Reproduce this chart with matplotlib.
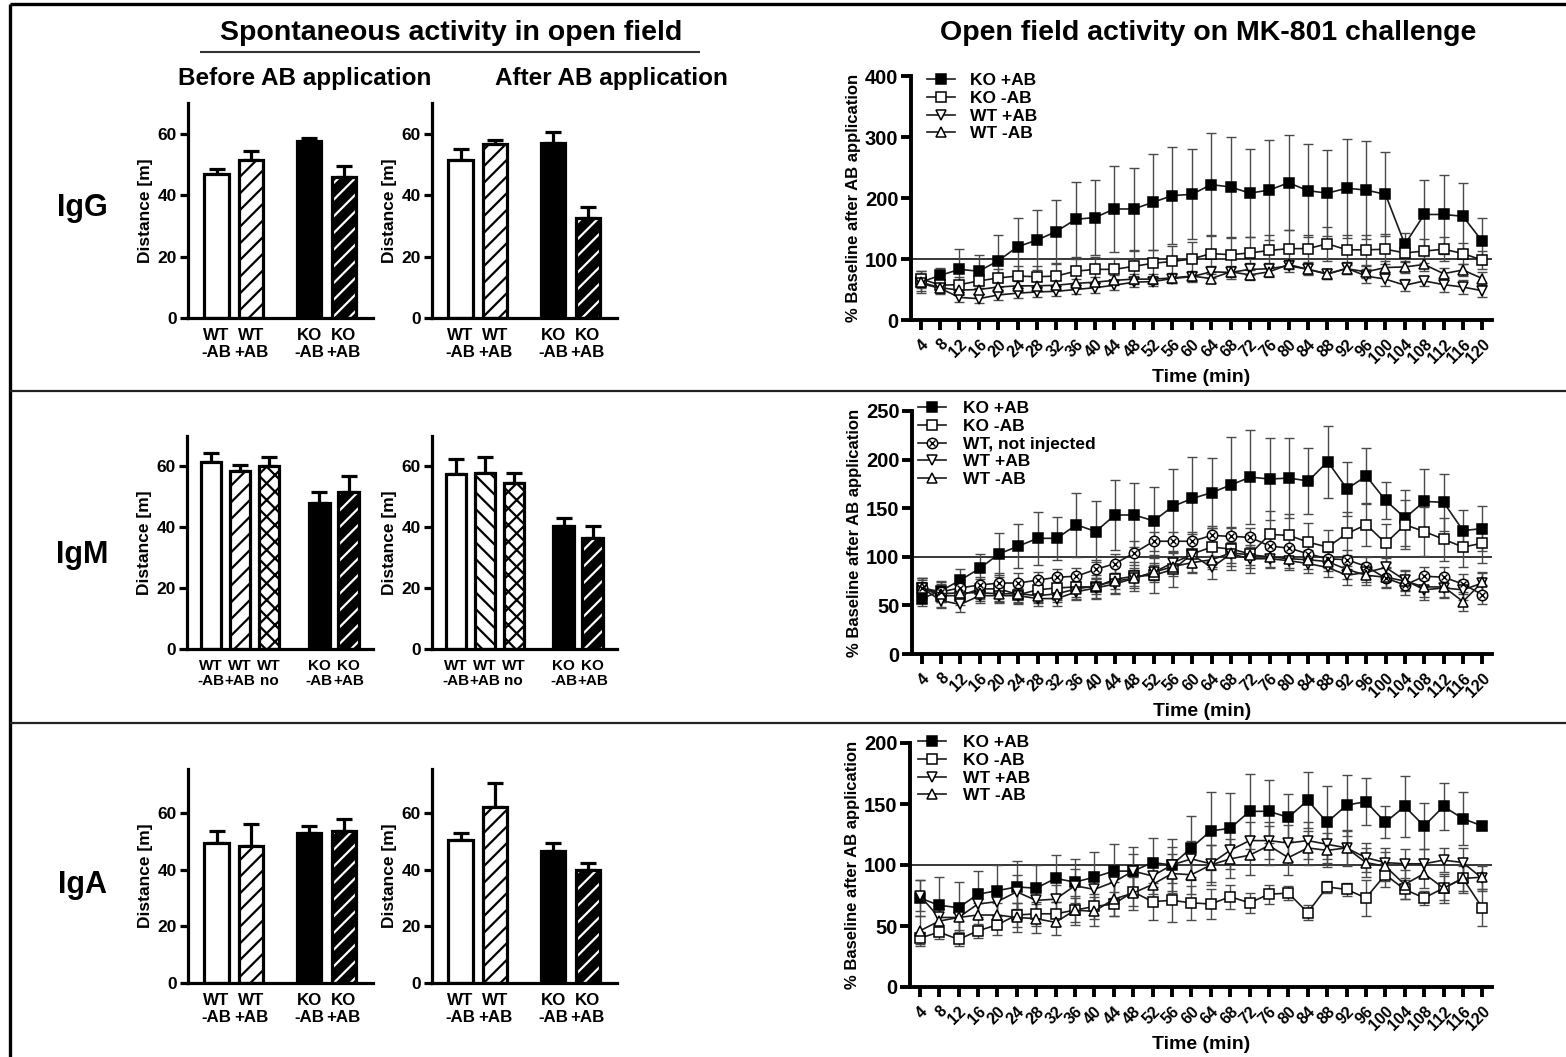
import matplotlib
matplotlib.use("Agg")
import matplotlib.pyplot as plt
from matplotlib.lines import Line2D
from matplotlib.legend_handler import HandlerTuple

plt.rcParams["font.family"] = ["Liberation Sans", "DejaVu Sans"]
plt.rcParams["font.weight"] = "bold"
plt.rcParams["axes.labelweight"] = "bold"
plt.rcParams["hatch.linewidth"] = 1.6

# ---------------------------------------------------------------- data
# Spontaneous activity (distance travelled, m), mean and SEM
BAR_LABELS_4 = ["WT\n-AB", "WT\n+AB", "KO\n-AB", "KO\n+AB"]
BAR_LABELS_5 = ["WT\n-AB", "WT\n+AB", "WT\nno", "KO\n-AB", "KO\n+AB"]

igg_before = [47, 51.5, 57.5, 46]
igg_before_sem = [1.5, 3, 1, 3.5]
igg_after = [51.5, 56.5, 57, 32.5]
igg_after_sem = [3.5, 1.5, 3.5, 3.5]

igm_before = [61.5, 58.5, 60, 48, 51.5]
igm_before_sem = [3, 2, 3, 3.5, 5.5]
igm_after = [57.5, 58, 54.5, 40.5, 36.5]
igm_after_sem = [5, 5, 3.5, 2.5, 4]

iga_before = [49.5, 48.5, 53, 53.5]
iga_before_sem = [4, 7.5, 2.5, 4.5]
iga_after = [50.5, 62, 46.5, 40]
iga_after_sem = [2.5, 8.5, 3, 2.5]

# MK-801 challenge: % of baseline, every 4 min
TIME_MIN = [4, 8, 12, 16, 20, 24, 28, 32, 36, 40, 44, 48, 52, 56, 60,
            64, 68, 72, 76, 80, 84, 88, 92, 96, 100, 104, 108, 112, 116, 120]

igg_ko_pos = [62, 73, 83, 80, 97, 120, 131, 145, 165, 168, 182, 182, 193, 204, 206,
              222, 218, 208, 213, 225, 212, 208, 216, 213, 206, 124, 173, 173, 170, 129]
igg_ko_pos_sem = [18, 13, 34, 27, 43, 47, 49, 51, 61, 62, 70, 67, 79, 79, 74,
                  84, 82, 72, 82, 78, 76, 71, 81, 81, 69, 19, 57, 64, 54, 38]
igg_ko_neg = [68, 57, 58, 64, 69, 72, 71, 72, 80, 83, 83, 88, 93, 96, 100,
              109, 107, 110, 114, 117, 117, 125, 115, 115, 116, 110, 113, 116, 109, 98]
igg_ko_neg_sem = [12, 10, 12, 12, 15, 16, 18, 20, 20, 20, 18, 25, 22, 25, 28,
                  30, 28, 26, 25, 30, 22, 28, 25, 25, 25, 15, 20, 20, 18, 15]
igg_wt_pos = [60, 52, 37, 35, 41, 44, 46, 47, 50, 53, 57, 62, 63, 68, 71,
              79, 78, 83, 84, 89, 83, 75, 85, 72, 67, 57, 64, 58, 54, 48]
igg_wt_pos_sem = [12, 10, 8, 7, 8, 8, 8, 8, 8, 8, 8, 8, 8, 8, 8,
                  10, 10, 10, 10, 10, 10, 8, 10, 12, 12, 10, 8, 12, 12, 10]
igg_wt_neg = [62, 53, 49, 50, 54, 56, 56, 57, 60, 62, 65, 67, 67, 69, 72,
              68, 79, 74, 79, 91, 83, 76, 84, 79, 86, 87, 91, 76, 82, 68]
igg_wt_neg_sem = [10, 8, 8, 8, 8, 8, 8, 8, 8, 8, 8, 8, 8, 8, 8,
                  8, 8, 8, 8, 8, 8, 8, 8, 10, 10, 10, 10, 10, 10, 10]

igm_ko_pos = [57, 65, 76, 88, 103, 111, 119, 119, 133, 126, 143, 143, 137, 152, 160,
              166, 174, 182, 180, 181, 178, 198, 170, 183, 158, 140, 157, 156, 127, 129]
igm_ko_pos_sem = [8, 10, 11, 15, 22, 23, 27, 22, 33, 31, 36, 33, 35, 38, 43,
                  36, 49, 48, 42, 41, 34, 37, 28, 29, 19, 29, 33, 29, 21, 23]
igm_ko_neg = [68, 60, 60, 67, 67, 61, 66, 68, 69, 69, 77, 80, 81, 87, 103,
              110, 108, 103, 123, 122, 115, 110, 124, 133, 114, 133, 126, 118, 110, 114]
igm_ko_neg_sem = [10, 12, 10, 10, 12, 10, 12, 12, 12, 12, 14, 15, 18, 18, 20,
                  20, 22, 20, 24, 22, 20, 18, 22, 22, 20, 25, 25, 22, 20, 20]
igm_wt_no = [68, 64, 68, 71, 73, 73, 76, 79, 80, 87, 93, 104, 116, 116, 116,
             122, 121, 120, 111, 109, 103, 98, 97, 90, 78, 71, 80, 79, 72, 61]
igm_wt_no_sem = [10, 10, 8, 8, 10, 10, 8, 8, 8, 10, 10, 12, 10, 10, 10,
                 10, 10, 10, 10, 10, 10, 10, 10, 10, 10, 10, 10, 10, 10, 10]
igm_wt_pos = [68, 55, 51, 60, 60, 60, 57, 57, 64, 68, 72, 78, 84, 94, 102,
              89, 103, 98, 98, 96, 93, 89, 81, 84, 89, 76, 66, 68, 66, 73]
igm_wt_pos_sem = [10, 8, 8, 8, 8, 8, 8, 8, 8, 10, 10, 10, 10, 10, 12,
                  12, 12, 10, 10, 10, 10, 10, 10, 10, 10, 10, 10, 10, 10, 10]
igm_wt_neg = [68, 62, 63, 63, 62, 62, 60, 62, 67, 70, 75, 78, 84, 90, 94,
              97, 104, 102, 100, 98, 97, 95, 87, 81, 79, 75, 69, 69, 54, 74]
igm_wt_neg_sem = [8, 8, 8, 8, 8, 8, 8, 8, 8, 8, 8, 8, 8, 10, 10,
                  10, 10, 10, 10, 10, 10, 10, 10, 10, 10, 10, 10, 10, 10, 10]

iga_ko_pos = [73, 67, 65, 76, 79, 82, 81, 89, 86, 90, 95, 95, 102, 100, 114,
              128, 130, 144, 144, 139, 153, 135, 149, 152, 135, 148, 132, 148, 138, 132]
iga_ko_pos_sem = [15, 23, 21, 19, 21, 21, 19, 19, 19, 21, 22, 20, 20, 21, 26,
                  32, 29, 31, 26, 19, 23, 30, 25, 19, 13, 25, 19, 19, 22, 3]
iga_ko_neg = [40, 45, 39, 46, 51, 59, 60, 60, 63, 66, 68, 78, 70, 71, 69,
              68, 74, 69, 76, 77, 61, 82, 80, 73, 92, 80, 73, 81, 89, 65]
iga_ko_neg_sem = [5, 6, 5, 6, 8, 10, 10, 10, 10, 10, 10, 12, 15, 18, 14,
                  12, 10, 8, 8, 6, 6, 5, 5, 15, 10, 8, 6, 10, 10, 15]
iga_wt_pos = [75, 57, 57, 68, 70, 78, 71, 72, 83, 80, 86, 95, 91, 100, 105,
              101, 112, 120, 120, 118, 120, 117, 114, 106, 102, 101, 101, 104, 102, 89]
iga_wt_pos_sem = [13, 12, 12, 12, 12, 14, 12, 12, 14, 14, 14, 14, 15, 15, 15,
                  15, 15, 15, 15, 15, 15, 15, 15, 12, 12, 12, 12, 10, 12, 10]
iga_wt_neg = [46, 54, 57, 59, 59, 57, 56, 53, 63, 62, 72, 77, 84, 93, 92,
              100, 105, 108, 116, 106, 114, 112, 114, 102, 99, 84, 93, 81, 89, 90]
iga_wt_neg_sem = [12, 10, 10, 10, 10, 12, 12, 10, 12, 12, 14, 14, 16, 16, 16,
                  16, 16, 16, 16, 14, 14, 14, 14, 12, 12, 12, 12, 12, 12, 10]

# ---------------------------------------------------------------- figure
W, H = 1566, 1057
fig = plt.figure(figsize=(W / 100, H / 100), dpi=100)


def px_axes(left, top, right, bottom):
    """Axes placed by pixel edges measured from the top-left corner."""
    return fig.add_axes([left / W, 1 - bottom / H, (right - left) / W, (bottom - top) / H])


def fig_line(x0, y0, x1, y1, lw=1.5, color="#222222"):
    fig.add_artist(Line2D([x0 / W, x1 / W], [1 - y0 / H, 1 - y1 / H],
                          lw=lw, color=color, solid_capstyle="butt"))


def fig_text(x, y, s, size, **kw):
    fig.text(x / W, 1 - y / H, s, fontsize=size, fontweight="bold",
             ha="center", va="center", **kw)


POS4 = [0, 1, 2.66, 3.66]
POS5 = [0, 1, 2, 3.72, 4.72]


def draw_bar(ax, x, v, style, width=0.7):
    if style == "open":
        ax.bar(x, v, width, facecolor="white", edgecolor="black", lw=2.3, zorder=2)
    elif style == "solid":
        ax.bar(x, v, width, facecolor="black", edgecolor="black", lw=2.3, zorder=2)
    elif style in ("fwd", "back", "cross"):
        hatch = {"fwd": "//", "back": "\\\\", "cross": "xx"}[style]
        ax.bar(x, v, width, facecolor="white", edgecolor="black", hatch=hatch,
               lw=2.3, zorder=2)
    elif style == "dark_fwd":
        ax.bar(x, v, width, facecolor="black", edgecolor="white", hatch="//",
               lw=0, zorder=2)
        ax.bar(x, v, width, fill=False, edgecolor="black", lw=2.3, zorder=3)


def bar_panel(box, values, sems, styles, pos, labels, ymax, label_size):
    ax = px_axes(*box)
    for x, v, st in zip(pos, values, styles):
        draw_bar(ax, x, v, st)
    ax.errorbar(pos, values, yerr=[[0] * len(values), sems], fmt="none",
                ecolor="black", elinewidth=2.3, capsize=6, capthick=2.3, zorder=1)
    ax.set_ylim(0, ymax)
    ax.set_xlim(pos[0] - 0.82, pos[-1] + 0.84)
    for s in ("top", "right"):
        ax.spines[s].set_visible(False)
    for s in ("left", "bottom"):
        ax.spines[s].set_linewidth(2.3)
    ax.set_yticks([0, 20, 40, 60])
    ax.tick_params(axis="y", width=2.3, length=6, labelsize=12.5, pad=2)
    ax.set_xticks(pos, labels)
    ax.tick_params(axis="x", length=0, labelsize=label_size, pad=7)
    for t in ax.get_xticklabels():
        t.set_fontweight("bold")
        t.set_linespacing(1.15)
    for t in ax.get_yticklabels():
        t.set_fontweight("bold")
    ax.set_ylabel("Distance [m]", fontsize=12.5, fontweight="bold", labelpad=3)
    return ax


def ts_panel(box, series, ymax, yticks, legend_xy, text_pad):
    ax = px_axes(*box)
    ax.axhline(100, color="black", lw=1.1, zorder=1)
    handles, labels = [], []
    for label, vals, sems, marker, face in series:
        ax.errorbar(TIME_MIN, vals, yerr=sems, fmt="none", ecolor="#4a4a4a",
                    elinewidth=1.0, capsize=3.5, capthick=1.0, zorder=2)
        ln, = ax.plot(TIME_MIN, vals, color="#1a1a1a", lw=1.2, marker=marker, ms=7.5,
                      mfc=face, mec="black", mew=1.1, zorder=3)
        if marker == "o":
            cr, = ax.plot(TIME_MIN, vals, ls="none", marker="x", ms=4.5,
                          mec="black", mew=1.0, zorder=4)
            handles.append((ln, cr))
        else:
            handles.append(ln)
        labels.append(label)
    ax.set_xlim(2, 122)
    ax.set_ylim(0, ymax)
    for s in ("top", "right"):
        ax.spines[s].set_visible(False)
    for s in ("left", "bottom"):
        ax.spines[s].set_linewidth(2.8)
    ax.set_yticks(yticks)
    ax.set_xticks(TIME_MIN, [str(t) for t in TIME_MIN])
    ax.tick_params(axis="y", width=2.8, length=7, labelsize=14.5, pad=2)
    ax.tick_params(axis="x", width=2.8, length=7, labelsize=11.5, pad=5)
    for t in ax.get_xticklabels():
        t.set_rotation(45)
        t.set_ha("right")
        t.set_va("top")
        t.set_rotation_mode("anchor")
        t.set_fontweight("bold")
    for t in ax.get_yticklabels():
        t.set_fontweight("bold")
    ax.set_ylabel("% Baseline after AB application", fontsize=12, fontweight="bold",
                  labelpad=3)
    ax.set_xlabel("Time (min)", fontsize=14, fontweight="bold", labelpad=2)
    ax.legend(handles, labels, loc="upper left",
              bbox_to_anchor=(legend_xy[0] / W, 1 - legend_xy[1] / H),
              bbox_transform=fig.transFigure, frameon=False,
              prop={"size": 12.5, "weight": "bold"}, handlelength=1.6,
              handletextpad=text_pad, labelspacing=0.15, borderpad=0,
              borderaxespad=0,
              handler_map={tuple: HandlerTuple(ndivide=1, pad=0)})
    return ax


# ---------------------------------------------------------------- frame & titles
fig_line(10, 4, W, 4, lw=2.4, color="black")
fig_line(10, 4, 10, H, lw=2.4, color="black")
fig_line(10, 391, W, 391, lw=1.6)
fig_line(10, 723, W, 723, lw=1.6)

fig_text(451, 33, "Spontaneous activity in open field", 20.5)
fig_line(200, 52, 700, 52, lw=1.5, color="#333333")
fig_text(305, 78, "Before AB application", 17.5)
fig_text(611, 78, "After AB application", 17.5)
fig_text(1208, 33, "Open field activity on MK-801 challenge", 20.5)

fig_text(82, 208, "IgG", 22)
fig_text(82, 555, "IgM", 22)
fig_text(82, 885, "IgA", 22)

# ---------------------------------------------------------------- bar panels
STY4 = ["open", "fwd", "solid", "dark_fwd"]
bar_panel((188, 103, 373, 318), igg_before, igg_before_sem, STY4, POS4,
          BAR_LABELS_4, 70, 12.2)
bar_panel((432, 103, 617, 318), igg_after, igg_after_sem, STY4, POS4,
          BAR_LABELS_4, 70, 12.2)

bar_panel((187, 436, 373, 649), igm_before, igm_before_sem,
          ["open", "fwd", "cross", "solid", "dark_fwd"], POS5, BAR_LABELS_5, 70, 11)
bar_panel((432, 436, 617, 649), igm_after, igm_after_sem,
          ["open", "back", "cross", "solid", "dark_fwd"], POS5, BAR_LABELS_5, 70, 11)

bar_panel((188, 769, 373, 983), iga_before, iga_before_sem, STY4, POS4,
          BAR_LABELS_4, 75.5, 12.2)
bar_panel((432, 769, 617, 983), iga_after, iga_after_sem, STY4, POS4,
          BAR_LABELS_4, 75.5, 12.2)

# ---------------------------------------------------------------- time courses
ts_panel((911, 76, 1492, 320), [
    ("KO +AB", igg_ko_pos, igg_ko_pos_sem, "s", "black"),
    ("KO -AB", igg_ko_neg, igg_ko_neg_sem, "s", "white"),
    ("WT +AB", igg_wt_pos, igg_wt_pos_sem, "v", "white"),
    ("WT -AB", igg_wt_neg, igg_wt_neg_sem, "^", "white"),
], 400, [0, 100, 200, 300, 400], (927, 73), 0.9)

ts_panel((912, 411, 1492, 654), [
    ("KO +AB", igm_ko_pos, igm_ko_pos_sem, "s", "black"),
    ("KO -AB", igm_ko_neg, igm_ko_neg_sem, "s", "white"),
    ("WT, not injected", igm_wt_no, igm_wt_no_sem, "o", "white"),
    ("WT +AB", igm_wt_pos, igm_wt_pos_sem, "v", "white"),
    ("WT -AB", igm_wt_neg, igm_wt_neg_sem, "^", "white"),
], 250, [0, 50, 100, 150, 200, 250], (918, 401), 1.0)

ts_panel((910, 743, 1492, 987), [
    ("KO +AB", iga_ko_pos, iga_ko_pos_sem, "s", "black"),
    ("KO -AB", iga_ko_neg, iga_ko_neg_sem, "s", "white"),
    ("WT +AB", iga_wt_pos, iga_wt_pos_sem, "v", "white"),
    ("WT -AB", iga_wt_neg, iga_wt_neg_sem, "^", "white"),
], 200, [0, 50, 100, 150, 200], (918, 735), 1.0)

fig.savefig("out.png", dpi=100)
